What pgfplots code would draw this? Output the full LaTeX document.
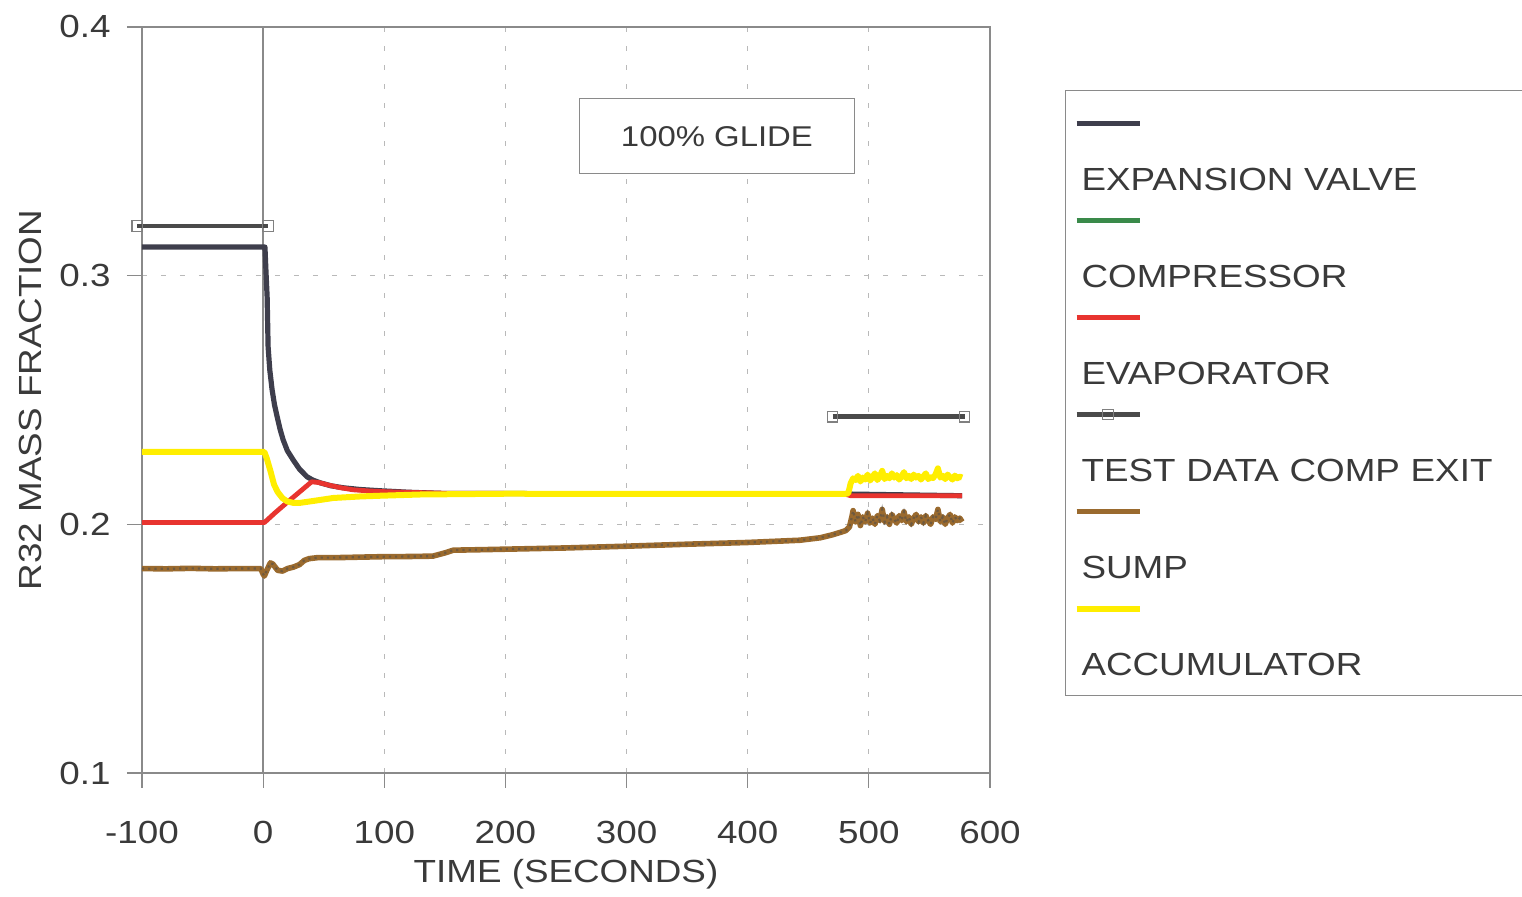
\documentclass[border=0pt]{standalone}
\usepackage{pgfplots}
\pgfplotsset{compat=1.18}
\usepackage{fontspec}
\setmainfont{Liberation Sans}[FakeStretch=1.15]
\definecolor{txt}{HTML}{3A3A3A}
\definecolor{axc}{HTML}{8A8A8A}
\definecolor{valve}{HTML}{3E3E4C}
\definecolor{comp}{HTML}{3A8A4A}
\definecolor{evap}{HTML}{E8342F}
\definecolor{testd}{HTML}{4A4A4A}
\definecolor{sump}{HTML}{9A6A2E}
\definecolor{accu}{HTML}{FFEE00}
\begin{document}
\begin{tikzpicture}
\begin{axis}[name=ax, scale only axis, width=424pt, height=373pt,
  xmin=-100, xmax=600, ymin=0.1, ymax=0.4, clip=false,
  xtick={-100,100,200,300,400,500,600},
  extra x ticks={0},
  extra x tick style={grid=major, major grid style={solid, draw=axc, line width=0.7pt}},
  ytick={0.1,0.2,0.3,0.4},
  grid=major,
  major grid style={dash pattern=on 2.5pt off 7pt, draw=gray!55, line width=0.6pt},
  tick align=outside, tick pos=left, major tick length=7.5pt,
  tick style={draw=axc, line width=0.6pt},
  axis line style={draw=axc, line width=0.6pt},
  /pgf/number format/assume math mode=true,
  ticklabel style={font=\fontsize{16}{19}\selectfont, text=txt},
  xticklabel style={yshift=-13pt},
  yticklabel style={xshift=-4.7pt, /pgf/number format/fixed, /pgf/number format/precision=1, /pgf/number format/fixed zerofill},
  xlabel={TIME (SECONDS)}, ylabel={R32 MASS FRACTION},
  label style={font=\fontsize{16}{19}\selectfont, text=txt},
  xlabel style={at={(axis description cs:0.5,-0.136)}, anchor=center},
  ylabel style={at={(axis description cs:-0.132,0.5)}, anchor=center},
  legend cell align=left,
  legend style={at={(1.0884,0.9155)}, anchor=north west, draw=axc, line width=0.6pt,
    inner xsep=5.5pt, inner ysep=10pt, row sep=8.75pt, column sep=2.5pt,
    font=\fontsize{16}{19}\selectfont, text=txt,
    cells={anchor=west},
    nodes={text width=230pt, align=left, text height=11.5pt, text depth=0pt, inner sep=0pt}},
  legend image code/.code={%
    \path[draw=none, fill=none] (0pt,-5.75pt) -- (0pt,34pt);
    \draw[overlay, mark repeat=2, mark phase=2, #1] plot coordinates {(0pt,27.5pt) (15.75pt,27.5pt) (31.5pt,27.5pt)};
  },
]
% EXPANSION VALVE
\addplot[valve, line width=2.6pt, no markers, line join=round] coordinates {
(-100,0.3115) (0,0.3115) (1.5,0.3115) (2.4,0.3010) (3.3,0.2915) (4.1,0.2714) (5.5,0.2620) (7.4,0.2541) (9.4,0.2480)
(11.6,0.2432) (14,0.2382) (16.5,0.2340) (20,0.2296) (24.8,0.2259) (30,0.2222) (36.3,0.2191) (41,0.2178) (47,0.2167)
(56,0.2155) (66,0.2147) (80,0.2140) (96.5,0.2135) (120,0.2129) (150,0.2124) (300,0.2123) (480,0.2122) (577,0.2115)};
\addlegendentry{EXPANSION VALVE}
% COMPRESSOR (hidden)
\addlegendimage{comp, line width=2.2pt, no markers}
\addlegendentry{COMPRESSOR}
% EVAPORATOR
\addplot[evap, line width=2.4pt, no markers, line join=round] coordinates {
(-100,0.2007) (0,0.2007) (1,0.2007) (10,0.2047) (20,0.2089) (30,0.2130) (40,0.2171) (46,0.2168) (53,0.2159)
(63,0.2148) (74,0.2139) (88,0.2134) (102,0.2131) (150,0.2125) (300,0.2123) (480,0.2122) (485,0.2115) (577,0.2115)};
\addlegendentry{EVAPORATOR}
% TEST DATA COMP EXIT
\addplot[testd, line width=2.4pt, mark=square, mark size=2.6pt, mark options={solid, draw=gray, fill=none, line width=0.6pt}, unbounded coords=jump] coordinates {
(-104,0.3200) (4,0.3200) (200,inf) (470,0.2432) (579,0.2432)};
\addlegendentry{TEST DATA COMP EXIT}
% SUMP
\addplot[sump, line width=2.8pt, no markers, line join=round] coordinates {
(-100,0.1822) (-80,0.1821) (-60,0.1823) (-40,0.1821) (-20,0.1822) (-2,0.1822) (0,0.1800) (1,0.1792) (3,0.1815)
(6,0.1845) (8,0.1840) (12,0.1815) (16,0.1812) (20,0.1822) (25,0.1828) (30,0.1838) (34,0.1855) (38,0.1862) (45,0.1866)
(60,0.1866) (80,0.1868) (100,0.1870) (112,0.1870) (140,0.1872) (150,0.1885) (157,0.1896) (180,0.1898) (200,0.1900)
(250,0.1905) (300,0.1912) (350,0.1920) (400,0.1927) (443,0.1936) (460,0.1946) (470,0.1958) (478,0.1970) (481,0.1975)
(484,0.1990) (486,0.2030) (487,0.2055) (489,0.2010) (491,0.2040) (493,0.1995) (495,0.2030) (497,0.2010) (499,0.2045)
(501,0.2005) (503,0.2025) (505,0.2000) (507,0.2035) (509,0.2015) (511,0.2060) (513,0.2010) (515,0.2030) (517,0.2000)
(519,0.2040) (521,0.2020) (523,0.2005) (525,0.2035) (527,0.2015) (529,0.2050) (531,0.2010) (533,0.2030) (535,0.2000)
(537,0.2025) (539,0.2040) (541,0.2010) (543,0.2030) (545,0.2005) (547,0.2035) (549,0.2015) (551,0.2000) (553,0.2030)
(555,0.2020) (557,0.2060) (559,0.2010) (561,0.2030) (563,0.2000) (565,0.2025) (567,0.2040) (569,0.2005) (571,0.2030)
(573,0.2015) (575,0.2025) (577,0.2010)};
\addlegendentry{SUMP}
\addplot[black!70, line width=1.1pt, dotted, no markers, forget plot, opacity=0.55] coordinates {
(-100,0.1822) (-80,0.1821) (-60,0.1823) (-40,0.1821) (-20,0.1822) (-2,0.1822) (0,0.1800) (1,0.1792) (3,0.1815)
(6,0.1845) (8,0.1840) (12,0.1815) (16,0.1812) (20,0.1822) (25,0.1828) (30,0.1838) (34,0.1855) (38,0.1862) (45,0.1866)
(60,0.1866) (80,0.1868) (100,0.1870) (112,0.1870) (140,0.1872) (150,0.1885) (157,0.1896) (180,0.1898) (200,0.1900)
(250,0.1905) (300,0.1912) (350,0.1920) (400,0.1927) (443,0.1936) (460,0.1946) (470,0.1958) (478,0.1970) (481,0.1975)
(484,0.1990) (486,0.2030) (487,0.2055) (489,0.2010) (491,0.2040) (493,0.1995) (495,0.2030) (497,0.2010) (499,0.2045)
(501,0.2005) (503,0.2025) (505,0.2000) (507,0.2035) (509,0.2015) (511,0.2060) (513,0.2010) (515,0.2030) (517,0.2000)
(519,0.2040) (521,0.2020) (523,0.2005) (525,0.2035) (527,0.2015) (529,0.2050) (531,0.2010) (533,0.2030) (535,0.2000)
(537,0.2025) (539,0.2040) (541,0.2010) (543,0.2030) (545,0.2005) (547,0.2035) (549,0.2015) (551,0.2000) (553,0.2030)
(555,0.2020) (557,0.2060) (559,0.2010) (561,0.2030) (563,0.2000) (565,0.2025) (567,0.2040) (569,0.2005) (571,0.2030)
(573,0.2015) (575,0.2025) (577,0.2010)};
% ACCUMULATOR
\addplot[accu, line width=3pt, no markers, line join=round] coordinates {
(-100,0.2291) (0,0.2291) (1,0.2291) (3,0.2265) (6,0.2215) (9,0.2160) (12,0.2130) (16,0.2105) (20,0.2092) (25,0.2086)
(30,0.2086) (40,0.2093) (58,0.2106) (80,0.2112) (97,0.2115) (130,0.2120) (200,0.2123) (480,0.2122) (483,0.2125)
(485,0.2165) (487,0.2185) (489,0.2178) (491,0.2195) (493,0.2172) (495,0.2188) (497,0.2180) (499,0.2200) (501,0.2176)
(503,0.2190) (505,0.2205) (507,0.2178) (509,0.2192) (511,0.2215) (513,0.2182) (515,0.2195) (517,0.2185) (519,0.2205)
(521,0.2188) (523,0.2198) (525,0.2180) (527,0.2192) (529,0.2210) (531,0.2185) (533,0.2195) (535,0.2182) (537,0.2200)
(539,0.2188) (541,0.2195) (543,0.2180) (545,0.2192) (547,0.2205) (549,0.2182) (551,0.2190) (553,0.2186) (555,0.2200)
(557,0.2225) (559,0.2188) (561,0.2195) (563,0.2182) (565,0.2200) (567,0.2190) (569,0.2180) (571,0.2196) (573,0.2185)
(575,0.2192) (577,0.2188)};
\addlegendentry{ACCUMULATOR}
\node[draw=axc, line width=0.6pt, fill=white, minimum width=137.5pt, minimum height=37.5pt,
  font=\fontsize{14.3}{17}\selectfont, text=txt] at (axis cs:374.6,0.356) {100\% GLIDE};
\end{axis}
\pgfresetboundingbox
\path[use as bounding box] ([xshift=-71pt,yshift=-62pt]ax.south west) rectangle ([xshift=266pt,yshift=13.5pt]ax.north east);
\end{tikzpicture}
\end{document}
